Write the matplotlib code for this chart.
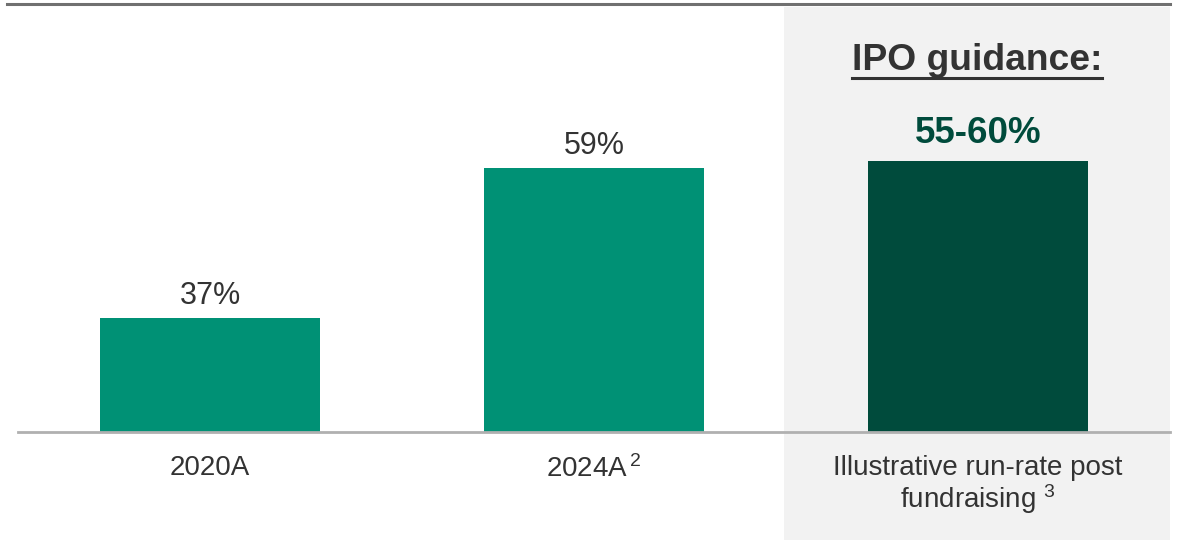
import matplotlib.pyplot as plt
from matplotlib.patches import Rectangle
from matplotlib.lines import Line2D

plt.rcParams['font.family'] = ['Liberation Sans', 'DejaVu Sans']
plt.rcParams['mathtext.fontset'] = 'custom'
plt.rcParams['mathtext.rm'] = 'Liberation Sans'
plt.rcParams['mathtext.it'] = 'Liberation Sans'

# data
categories = ['2020A', '2024A$^{\\,2}$', 'Illustrative run-rate post\nfundraising $^{3}$']
values = [37, 59, 60]
value_labels = ['37%', '59%', '55-60%']
bar_colors = ['#009175', '#009175', '#004b3c']

W, H = 1178, 540
fig = plt.figure(figsize=(W / 100, H / 100), dpi=100)
ax = fig.add_axes([18 / W, 1 - 432 / H, (1170 - 18) / W, (432 - 7) / H])

# grey panel behind the guidance bar (extends below axis)
panel = Rectangle((784 / W, 0), (1170 - 784) / W, 1 - 7 / H,
                  transform=fig.transFigure, facecolor='#f2f2f2',
                  edgecolor='none', zorder=-1)
fig.patches.append(panel)
ax.set_facecolor('none')

x = range(len(categories))
ax.bar(x, values, width=0.573, color=bar_colors, zorder=2)

ax.set_xlim(-0.5, 2.5)
ax.set_ylim(20.24, 20.24 + (432 - 7) / 6.818)

for i, (v, lab) in enumerate(zip(values, value_labels)):
    if i == 2:
        ax.annotate(lab, (i, v), xytext=(0, 7), textcoords='offset points',
                    ha='center', va='bottom', fontsize=26.5,
                    fontweight='bold', color='#004b3c')
    else:
        ax.annotate(lab, (i, v), xytext=(0, 5), textcoords='offset points',
                    ha='center', va='bottom', fontsize=22, color='#333333')

ax.set_xticks(list(x))
ax.set_xticklabels(categories, fontsize=20, color='#333333', linespacing=1.05)
ax.tick_params(axis='x', length=0, pad=16.5)
ax.set_yticks([])
for s in ['top', 'right', 'left']:
    ax.spines[s].set_visible(False)
ax.spines['bottom'].set_color('#b0b0b0')
ax.spines['bottom'].set_linewidth(2)

# header text with underline
fig.text(977 / W, 1 - 60 / H, 'IPO guidance:', ha='center', va='center',
         fontsize=26.8, fontweight='bold', color='#333333')
fig.lines.append(Line2D([852 / W, 1102 / W], [1 - 78 / H, 1 - 78 / H],
                        transform=fig.transFigure, color='#333333', lw=2.2))

# top rule
fig.lines.append(Line2D([7 / W, 1170 / W], [1 - 4 / H, 1 - 4 / H],
                        transform=fig.transFigure, color='#707070', lw=2.2))

fig.savefig('out.png', dpi=100)
